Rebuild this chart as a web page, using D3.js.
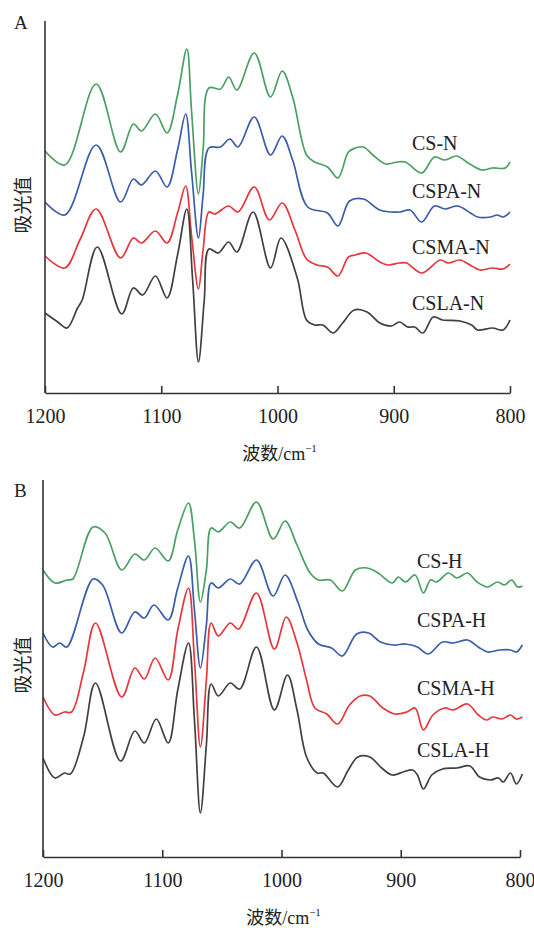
<!DOCTYPE html>
<html>
<head>
<meta charset="utf-8">
<script src="https://cdn.jsdelivr.net/npm/d3@7"></script>
<style>
  body { margin: 0; background: #fff; }
  svg text { fill: #222; }
</style>
</head>
<body>
<div id="chart"></div>
<script>
// tick labels, series names
var xTicks = [1200, 1100, 1000, 900, 800];
var namesA = ["CS-N", "CSPA-N", "CSMA-N", "CSLA-N"];
var namesB = ["CS-H", "CSPA-H", "CSMA-H", "CSLA-H"];
var color = {"cs": "#4a9f62", "cspa": "#3a5ca9", "csma": "#e5373d", "csla": "#433f3f"};

// panel A spectra  [wavenumber, absorbance (stacked)]
var csN = [[1200,2.42],[1183,2.28],[1156,3.09],[1135,2.41],[1124,2.69],[1117,2.62],[1105,2.79],[1095,2.60],
  [1086,2.98],[1078,3.44],[1074,2.83],[1068,1.99],[1064,2.43],[1059,3.05],[1049,3.04],[1042,3.16],[1035,3.03],
  [1020,3.40],[1006,2.96],[996,3.22],[987,2.96],[975,2.38],[968,2.31],[957,2.26],[948,2.15],[939,2.41],
  [933,2.45],[926,2.46],[918,2.38],[907,2.29],[897,2.31],[890,2.31],[876,2.20],[865,2.36],[856,2.33],
  [846,2.37],[836,2.30],[824,2.23],[815,2.25],[804,2.25],[800,2.31]];
var cspaN = [[1200,1.91],[1183,1.78],[1156,2.48],[1135,1.91],[1124,2.14],[1117,2.08],[1105,2.22],[1095,2.06],
  [1086,2.43],[1079,2.79],[1074,2.22],[1068,1.55],[1064,1.98],[1059,2.45],[1049,2.46],[1041,2.54],[1034,2.46],
  [1020,2.76],[1006,2.38],[996,2.57],[987,2.33],[974,1.86],[957,1.80],[948,1.67],[938,1.92],[926,1.94],
  [912,1.83],[895,1.81],[886,1.83],[876,1.71],[865,1.87],[856,1.84],[845,1.87],[834,1.80],[828,1.76],
  [817,1.76],[811,1.78],[806,1.76],[800,1.81]];
var csmaN = [[1200,1.37],[1183,1.25],[1170,1.53],[1156,1.84],[1135,1.35],[1124,1.55],[1117,1.50],[1105,1.62],
  [1095,1.50],[1086,1.80],[1079,2.07],[1074,1.58],[1068,1.04],[1064,1.43],[1059,1.81],[1054,1.79],[1042,1.87],
  [1034,1.81],[1020,2.06],[1007,1.73],[996,1.90],[985,1.63],[975,1.34],[966,1.28],[957,1.26],[948,1.17],
  [939,1.36],[933,1.38],[924,1.40],[912,1.31],[905,1.28],[895,1.30],[889,1.30],[876,1.20],[860,1.33],
  [853,1.30],[843,1.33],[833,1.27],[826,1.23],[815,1.25],[806,1.24],[800,1.29]];
var cslaN = [[1200,0.80],[1189,0.71],[1181,0.65],[1172,0.85],[1168,0.93],[1155,1.46],[1134,0.79],[1124,1.05],
  [1116,0.98],[1105,1.17],[1095,0.95],[1086,1.38],[1078,1.84],[1073,1.13],[1068,0.31],[1063,0.93],[1059,1.44],
  [1051,1.40],[1042,1.51],[1035,1.41],[1021,1.81],[1006,1.25],[997,1.55],[983,1.15],[975,0.73],[968,0.68],
  [961,0.68],[952,0.60],[944,0.70],[934,0.83],[923,0.81],[912,0.70],[902,0.67],[895,0.71],[888,0.66],
  [882,0.66],[875,0.60],[866,0.76],[858,0.73],[843,0.72],[833,0.68],[828,0.63],[815,0.65],[806,0.63],[800,0.73]];

// panel B spectra
var csH = [[1200,2.87],[1190,2.74],[1180,2.77],[1175,2.78],[1158,3.30],[1148,3.24],[1134,2.87],[1123,3.03],
  [1115,2.97],[1106,3.09],[1095,2.96],[1087,3.27],[1078,3.54],[1073,3.17],[1068,2.55],[1063,2.87],[1059,3.29],
  [1053,3.25],[1043,3.35],[1035,3.29],[1021,3.55],[1007,3.18],[997,3.36],[987,3.12],[976,2.84],[969,2.77],
  [959,2.77],[949,2.66],[938,2.87],[928,2.89],[919,2.84],[907,2.74],[902,2.80],[896,2.75],[888,2.82],
  [881,2.64],[875,2.77],[870,2.75],[860,2.84],[853,2.79],[844,2.84],[836,2.75],[827,2.70],[819,2.75],
  [813,2.72],[807,2.77],[802,2.70],[798,2.71]];
var cspaH = [[1200,2.24],[1192,2.10],[1186,2.14],[1180,2.10],[1158,2.78],[1150,2.72],[1134,2.24],[1123,2.45],
  [1115,2.39],[1107,2.52],[1095,2.37],[1087,2.69],[1078,3.01],[1073,2.47],[1068,1.89],[1063,2.32],[1059,2.74],
  [1053,2.69],[1043,2.78],[1035,2.73],[1021,2.97],[1007,2.61],[997,2.82],[986,2.54],[978,2.27],[969,2.13],
  [958,2.09],[949,2.01],[937,2.23],[927,2.24],[917,2.15],[906,2.12],[896,2.13],[886,2.10],[877,2.03],
  [865,2.15],[856,2.14],[844,2.17],[835,2.10],[827,2.05],[817,2.07],[808,2.07],[803,2.05],[798,2.12]];
var csmaH = [[1200,1.60],[1190,1.42],[1182,1.45],[1176,1.45],[1166,1.85],[1156,2.34],[1134,1.60],[1123,1.89],
  [1115,1.78],[1106,1.99],[1095,1.77],[1087,2.27],[1078,2.69],[1073,1.97],[1068,1.10],[1063,1.77],[1059,2.34],
  [1053,2.21],[1043,2.34],[1036,2.28],[1021,2.64],[1006,2.08],[996,2.40],[987,2.14],[979,1.77],[972,1.49],
  [962,1.43],[953,1.33],[943,1.52],[934,1.61],[926,1.61],[915,1.49],[905,1.43],[895,1.45],[888,1.49],
  [881,1.27],[873,1.42],[863,1.49],[856,1.47],[844,1.53],[835,1.42],[828,1.37],[823,1.40],[815,1.38],
  [808,1.42],[803,1.38],[798,1.40]];
var cslaH = [[1200,0.99],[1190,0.79],[1182,0.84],[1177,0.83],[1166,1.20],[1156,1.74],[1135,0.96],[1123,1.26],
  [1115,1.14],[1105,1.38],[1095,1.14],[1087,1.67],[1078,2.14],[1073,1.37],[1068,0.44],[1063,1.12],[1059,1.73],
  [1053,1.61],[1043,1.74],[1035,1.68],[1021,2.10],[1006,1.47],[995,1.82],[987,1.47],[979,1.00],[970,0.84],
  [965,0.84],[953,0.70],[944,0.87],[936,1.00],[926,1.00],[916,0.89],[907,0.82],[898,0.85],[890,0.87],
  [886,0.82],[881,0.68],[874,0.82],[865,0.88],[853,0.89],[842,0.91],[834,0.80],[825,0.77],[818,0.79],
  [814,0.75],[808,0.84],[803,0.73],[798,0.83]];

var font = "'Liberation Serif', 'Times New Roman', 'Noto Sans CJK SC', serif";

var svg = d3.select("#chart").append("svg")
  .attr("width", 534)
  .attr("height", 928)
  .style("font-family", font);

function drawPanel(p) {
  var x = d3.scaleLinear().domain([1200, 800]).range([p.left, p.right]);
  var y = d3.scaleLinear().domain([0, p.ymax]).range([p.bottom, p.top]);
  var g = svg.append("g").attr("class", "panel");

  var line = d3.line()
    .x(function(d) { return x(d[0]); })
    .y(function(d) { return y(d[1]); })
    .curve(d3.curveCatmullRom.alpha(0.5));

  g.selectAll("path.spec")
    .data(p.series)
    .enter()
    .append("path")
    .attr("class", "spec")
    .attr("d", function(d) { return line(d.values); })
    .style("fill", "none")
    .style("stroke", function(d) { return d.color; })
    .style("stroke-width", 1.7)
    .style("stroke-linejoin", "round");

  // y axis: plain line, no ticks
  g.append("line")
    .attr("x1", x(1200)).attr("x2", x(1200))
    .attr("y1", p.top).attr("y2", p.bottom)
    .style("stroke", "#333")
    .style("stroke-width", 1.6);

  // x axis, ticks pointing inward
  var ax = g.append("g")
    .attr("transform", "translate(0," + p.bottom + ")")
    .call(d3.axisBottom(x).tickValues(xTicks).tickSize(-7).tickSizeOuter(0).tickFormat(d3.format("d")));
  ax.select(".domain").style("stroke", "#333").style("stroke-width", 1.6);
  ax.selectAll(".tick line").style("stroke", "#333").style("stroke-width", 1.6);
  ax.selectAll(".tick text")
    .attr("y", 30).attr("dy", 0)
    .style("font-family", font)
    .style("font-size", "20px")
    .style("fill", "#222");

  // axis titles
  var t = g.append("text")
    .attr("x", (p.left + p.right) / 2 + 2)
    .attr("y", p.bottom + 67)
    .attr("text-anchor", "middle")
    .style("font-size", "18px");
  t.append("tspan").text("波数/cm");
  t.append("tspan").attr("dy", -8).style("font-size", "11px").text("−1");

  g.append("text")
    .attr("transform", "translate(" + 23 + "," + p.ylabel + ") rotate(-90)")
    .attr("text-anchor", "middle")
    .attr("dy", "0.35em")
    .style("font-size", "19px")
    .text("吸光值");

  // panel letter
  g.append("text")
    .attr("x", 14)
    .attr("y", p.letterY)
    .style("font-size", "19px")
    .text(p.letter);

  // series labels
  g.selectAll("text.name")
    .data(p.series)
    .enter()
    .append("text")
    .attr("class", "name")
    .attr("x", p.labelX)
    .attr("y", function(d, i) { return p.labelY[i]; })
    .style("font-size", "20px")
    .text(function(d) { return d.name; });
}

drawPanel({
  letter: "A", letterY: 29,
  left: 45, right: 510, top: 21, bottom: 393, ymax: 3.72, ylabel: 205,
  labelX: 412, labelY: [150, 198, 254, 310],
  series: [
    {name: namesA[0], values: csN, color: color.cs},
    {name: namesA[1], values: cspaN, color: color.cspa},
    {name: namesA[2], values: csmaN, color: color.csma},
    {name: namesA[3], values: cslaN, color: color.csla}
  ]
});

drawPanel({
  letter: "B", letterY: 497,
  left: 43, right: 520, top: 480, bottom: 857, ymax: 3.77, ylabel: 665,
  labelX: 417, labelY: [568, 627, 695, 757],
  series: [
    {name: namesB[0], values: csH, color: color.cs},
    {name: namesB[1], values: cspaH, color: color.cspa},
    {name: namesB[2], values: csmaH, color: color.csma},
    {name: namesB[3], values: cslaH, color: color.csla}
  ]
});
</script>
</body>
</html>
